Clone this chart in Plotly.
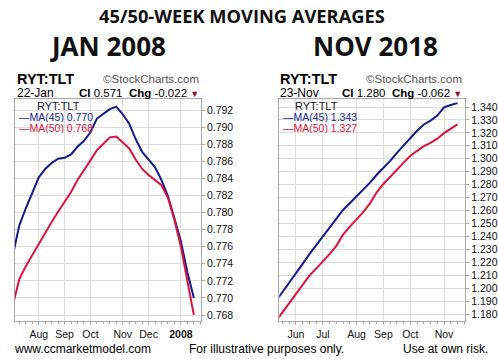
import plotly.graph_objects as go
import pandas as pd

# ---- data ----
dates_2008 = pd.date_range("2007-07-09", periods=29, freq="7D")
ma45_2008 = [0.7750, 0.7785, 0.7805, 0.7824, 0.7841, 0.7851, 0.7858, 0.7863, 0.7864, 0.7868,
             0.7877, 0.7884, 0.7894, 0.7910, 0.7916, 0.7921, 0.7924, 0.7915, 0.7904, 0.7886,
             0.7871, 0.7862, 0.7853, 0.7838, 0.7819, 0.7793, 0.7766, 0.7730, 0.7700]
ma50_2008 = [0.7692, 0.7722, 0.7737, 0.7750, 0.7764, 0.7776, 0.7789, 0.7801, 0.7812, 0.7824,
             0.7838, 0.7849, 0.7861, 0.7873, 0.7881, 0.7888, 0.7889, 0.7882, 0.7875, 0.7862,
             0.7851, 0.7844, 0.7838, 0.7832, 0.7817, 0.7791, 0.7760, 0.7719, 0.7680]

dates_2018 = pd.date_range("2018-05-14", periods=28, freq="7D")
ma45_2018 = [1.1897, 1.1968, 1.2040, 1.2112, 1.2188, 1.2263, 1.2331, 1.2397, 1.2465, 1.2534,
             1.2604, 1.2656, 1.2709, 1.2760, 1.2815, 1.2876, 1.2926, 1.2984, 1.3046, 1.3104,
             1.3163, 1.3216, 1.3265, 1.3295, 1.3334, 1.3398, 1.3415, 1.3430]
ma50_2018 = [1.1742, 1.1814, 1.1886, 1.1958, 1.2030, 1.2097, 1.2151, 1.2204, 1.2263, 1.2327,
             1.2414, 1.2475, 1.2529, 1.2587, 1.2655, 1.2741, 1.2805, 1.2862, 1.2918, 1.2970,
             1.3023, 1.3061, 1.3097, 1.3123, 1.3155, 1.3198, 1.3235, 1.3266]

ticks_2008 = ["2007-08-06", "2007-09-03", "2007-10-01", "2007-11-05", "2007-12-03", "2008-01-07"]
labels_2008 = ["Aug", "Sep", "Oct", "Nov", "Dec", "<b>2008</b>"]
ticks_2018 = ["2018-06-04", "2018-07-02", "2018-08-06", "2018-09-03", "2018-10-01", "2018-11-05"]
labels_2018 = ["Jun", "Jul", "Aug", "Sep", "Oct", "Nov"]

BLUE = "#131a8f"
RED = "#dc143c"
W, H = 498, 359

fig = go.Figure()
fig.add_trace(go.Scatter(x=dates_2008, y=ma45_2008, mode="lines", line=dict(color=BLUE, width=2),
                         xaxis="x", yaxis="y"))
fig.add_trace(go.Scatter(x=dates_2008, y=ma50_2008, mode="lines", line=dict(color=RED, width=2),
                         xaxis="x", yaxis="y"))
fig.add_trace(go.Scatter(x=dates_2018, y=ma45_2018, mode="lines", line=dict(color=BLUE, width=2),
                         xaxis="x2", yaxis="y2"))
fig.add_trace(go.Scatter(x=dates_2018, y=ma50_2018, mode="lines", line=dict(color=RED, width=2),
                         xaxis="x2", yaxis="y2"))

def px(x):
    return x / W

def py(y):
    return 1 - y / H

grid = "#dedede"
border = "#a9a9a9"
tickfont = dict(family="Liberation Sans, Arial", size=10.5, color="#111")

common_x = dict(type="date", showgrid=True, gridcolor=grid, gridwidth=1, showline=True,
                linecolor=border, mirror=True, ticks="outside", ticklen=3, tickcolor=border,
                tickfont=tickfont, zeroline=False, tickmode="array",
                minor=dict(ticks="outside", ticklen=2, tickcolor=border, dtick=7 * 86400000,
                           tick0="2007-07-09", showgrid=False))
common_y = dict(showgrid=True, gridcolor=grid, gridwidth=1, showline=True, linecolor=border,
                mirror=True, ticks="outside", ticklen=3, tickcolor=border, tickfont=tickfont,
                zeroline=False, side="right", tickformat=".3f")

ydom = [py(321), py(99)]

fig.update_layout(
    width=W, height=H, autosize=False,
    margin=dict(l=0, r=0, t=0, b=0),
    paper_bgcolor="white", plot_bgcolor="white",
    showlegend=False,
    xaxis=dict(common_x, domain=[px(15), px(202)], anchor="y",
               range=["2007-07-11 05:00", "2008-01-28 12:00"],
               tickvals=ticks_2008, ticktext=labels_2008),
    yaxis=dict(common_y, domain=ydom, anchor="x", range=[0.76730, 0.79329],
               dtick=0.002, tick0=0.768),
    xaxis2=dict(common_x, domain=[px(281), px(468)], anchor="y2",
                range=["2018-05-17 17:00", "2018-11-27 00:00"],
                tickvals=ticks_2018, ticktext=labels_2018),
    yaxis2=dict(common_y, domain=ydom, anchor="x2", range=[1.17459, 1.34618],
                dtick=0.01, tick0=1.18),
)

anns = []
def ann(text, x, y, size, color="#000", xanchor="left", family="Liberation Sans, Arial",
        height=None):
    a = dict(text=text, x=px(x), y=py(y), xref="paper", yref="paper",
             xanchor=xanchor, yanchor="middle", showarrow=False,
             font=dict(family=family, size=size, color=color))
    if height:
        a["height"] = height
    anns.append(a)

title_font = "Open Sans"
ann("<b>45/50-WEEK MOVING AVERAGES</b>", 243, 15, 18.3, "#111", "center", title_font)
ann("<b>JAN 2008</b>", 109, 46, 26, "#111", "center", title_font)
ann("<b>NOV 2018</b>", 378, 46, 26, "#111", "center", title_font)

tri = "<span style='color:#8b1030;font-size:9px'>▼</span>"
for x0, xr, date, ci, chg in [(15, 202, "22-Jan", "0.571", "-0.022"),
                              (280, 467, "23-Nov", "1.280", "-0.062")]:
    ann("<b>RYT:TLT</b>", x0, 79, 14.5, "#000")
    ann(date, x0, 93, 12, "#000")
    ann("©StockCharts.com", xr, 79, 11.5, "#555", "right")
    ann("<b>CI</b> " + ci + "  <b>Chg</b> " + chg + " " + tri, xr, 93, 11.5, "#000", "right")

# legends inside plots
for xl, xc, v45, v50 in [(17, 59, "0.770", "0.768"), (283, 318, "1.343", "1.327")]:
    ann("RYT:TLT", xc, 105.5, 11, "#222", "center", height=11)
    ann("—MA(45) " + v45, xl, 116.5, 10.5, BLUE, height=11)
    ann("—MA(50) " + v50, xl, 127.5, 10.5, RED, height=11)

ann("www.ccmarketmodel.com", 12, 349, 12, "#000")
ann("For illustrative purposes only.", 188, 349, 12, "#000")
ann("Use at own risk.", 493, 349, 12, "#000", "right")

fig.update_layout(annotations=anns)
fig.write_html("out.html", config={"displayModeBar": False},
               post_script="document.body.style.margin='0';document.body.style.overflow='hidden';")
